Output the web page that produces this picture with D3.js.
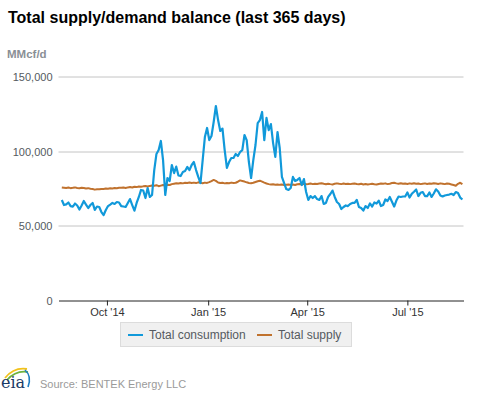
<!DOCTYPE html>
<html>
<head>
<meta charset="utf-8">
<script src="https://cdn.jsdelivr.net/npm/d3@7"></script>
<style>
    body { margin: 0; background: #fff; }
    svg { display: block; font-family: Arial, "Liberation Sans", sans-serif; }
</style>
</head>
<body>
<svg id="drawing_region"></svg>
<script>

// one reading every 2 days, starting 21 Aug 2014
const startDate = new Date(2014, 7, 21);
const stepDays = 2;

const consumption = [
    67000, 63600, 64000, 65300, 62900, 62500, 64600, 63300, 60600, 63300,
    66300, 63900, 61600, 63600, 65000, 60300, 62600, 62300, 58900, 56900,
    60300, 62900, 63900, 65000, 64300, 65600, 65300, 62900, 62600, 62300,
    65000, 67600, 63600, 59800, 65000, 69000, 73700, 73300, 68300, 75000,
    69000, 70300, 87000, 97800, 100400, 106500, 93700, 70300, 81700, 79700,
    90400, 85000, 89300, 83400, 83000, 85700, 86400, 89100, 87000, 90400,
    92400, 87000, 82400, 78300, 93700, 109100, 115200, 107100, 109800, 119200,
    129900, 120500, 113200, 114800, 100400, 88400, 92400, 95100, 95100, 97800,
    96400, 99100, 100400, 110500, 107100, 92400, 81700, 93700, 103800, 118500,
    120500, 125900, 107100, 121900, 113800, 117800, 105100, 95800, 112500, 101800,
    82400, 78300, 74300, 73700, 75000, 82400, 79700, 80400, 81700, 77000,
    81000, 72300, 67000, 69600, 68300, 69600, 67600, 67000, 69600, 64300,
    65000, 69000, 71000, 73300, 69000, 65600, 64300, 60900, 62300, 63300,
    62900, 64300, 65000, 65000, 67000, 62300, 61600, 59900, 62900, 61600,
    64700, 62600, 65300, 64600, 66600, 62900, 63600, 67300, 66300, 69000,
    65800, 62600, 66600, 69300, 69000, 69300, 69300, 72000, 68600, 71100,
    72500, 74000, 69600, 71800, 72300, 69600, 69600, 72000, 69000, 71300,
    74100, 72700, 70000, 69300, 70000, 70300, 70600, 71100, 70300, 72300,
    71600, 68600, 67300
];

const supply = [
    75400, 75200, 75000, 75300, 74900, 75100, 75400, 75000, 74800, 75100,
    75000, 74700, 74900, 74500, 74300, 73900, 74200, 74100, 74400, 74300,
    74600, 74500, 74800, 74700, 75000, 74900, 75200, 75100, 75300, 75000,
    75400, 75600, 75300, 75800, 75600, 76000, 75800, 76100, 76300, 76000,
    76400, 76700, 76500, 76900, 76200, 76600, 77000, 76800, 77200, 77000,
    77600, 77900, 78200, 78000, 78400, 78100, 78500, 78300, 78700, 78400,
    78600, 78300, 78800, 78500, 78200, 78600, 78400, 78900, 79600, 80400,
    79800, 78700, 78300, 78500, 78100, 78400, 78200, 78600, 78300, 78500,
    79200, 80100, 79700, 79300, 78800, 78400, 78200, 78500, 79000, 79500,
    79900, 79300, 78600, 78000, 77600, 77300, 77500, 77200, 77400, 77100,
    77300, 77000, 77200, 77400, 77100, 77300, 77000, 77500, 77700, 77400,
    77800, 77500, 77700, 78000, 77600, 77900, 77700, 78000, 78200, 77800,
    77500, 77900, 77600, 77400, 77800, 78100, 77800, 77600, 78000, 77700,
    77900, 77600, 77800, 78000, 77700, 77500, 77800, 77400, 77700, 77300,
    77600, 77900, 77500, 77300, 77700, 78000, 77800, 78100, 77600, 77900,
    78300, 78500, 78100, 77900, 78200, 77800, 78000, 77700, 78100, 77900,
    78200, 77800, 78000, 77600, 77900, 78100, 77700, 78000, 77800, 78200,
    78000, 77700, 78100, 77900, 77600, 78000, 77800, 77400, 77000, 76500,
    77800, 78500, 77600
];

const yTicks = [0, 50000, 100000, 150000];
const xTickDates = [new Date(2014, 9, 1), new Date(2015, 0, 1), new Date(2015, 3, 1), new Date(2015, 6, 1)];
const xTickLabels = ["Oct '14", "Jan '15", "Apr '15", "Jul '15"];
const seriesNames = ["Total consumption", "Total supply"];
const seriesColors = ["#1199da", "#c0722e"];

const width = 477, height = 393;
const plot = { left: 58.5, right: 463.5, top: 76, bottom: 300 };

const svg = d3.select("#drawing_region")
    .attr("width", width)
    .attr("height", height);

const xscale = d3.scaleTime()
    .domain([new Date(2014, 7, 18), new Date(2015, 7, 21)])
    .range([plot.left, plot.right]);

const yscale = d3.scaleLinear()
    .domain([0, 150000])
    .range([plot.bottom, plot.top]);

// title + unit
svg.append("text")
    .attr("x", 8).attr("y", 23)
    .style("font-size", "16px").style("font-weight", "bold")
    .attr("fill", "#000")
    .text("Total supply/demand balance (last 365 days)");

svg.append("text")
    .attr("x", 7).attr("y", 58)
    .style("font-size", "11.5px").style("font-weight", "bold")
    .attr("fill", "#8a8f96")
    .text("MMcf/d");

// y grid + labels
const yaxis = d3.axisLeft(yscale)
    .tickValues(yTicks)
    .tickFormat(d3.format(","))
    .tickSize(-(plot.right - plot.left))
    .tickPadding(6);

const yaxis_group = svg.append("g")
    .attr("transform", `translate(${plot.left}, 0)`)
    .call(yaxis);

yaxis_group.select(".domain").remove();
yaxis_group.selectAll(".tick line")
    .attr("stroke", "#c4c4c4")
    .attr("transform", d => `translate(0, ${Math.round(yscale(d)) + 0.5 - yscale(d)})`);
yaxis_group.selectAll(".tick text")
    .attr("fill", "#555a60")
    .style("font-size", "11px")
    .attr("dy", "0.42em")
    .attr("font-family", "Arial, 'Liberation Sans', sans-serif");
yaxis_group.selectAll(".tick").filter(d => d === 0).select("line").remove();

// x axis
const xaxis = d3.axisBottom(xscale)
    .tickValues(xTickDates)
    .tickFormat((d, i) => xTickLabels[i])
    .tickSize(5)
    .tickSizeOuter(0)
    .tickPadding(3);

const xaxis_group = svg.append("g")
    .attr("transform", `translate(0, ${plot.bottom + 0.5})`)
    .call(xaxis);

xaxis_group.select(".domain").attr("stroke", "#222");
xaxis_group.selectAll(".tick line").attr("stroke", "#222");
xaxis_group.selectAll(".tick text")
    .attr("fill", "#333")
    .style("font-size", "11px")
    .attr("font-family", "Arial, 'Liberation Sans', sans-serif");

// lines
const dateOf = i => d3.timeDay.offset(startDate, i * stepDays);

const line = d3.line()
    .x((d, i) => xscale(dateOf(i)))
    .y(d => yscale(d))
    .curve(d3.curveLinear);

const chart = svg.append("g");

chart.append("path")
    .datum(supply)
    .attr("fill", "none")
    .attr("stroke", seriesColors[1])
    .attr("stroke-width", 2)
    .attr("stroke-linejoin", "round")
    .attr("d", line);

chart.append("path")
    .datum(consumption)
    .attr("fill", "none")
    .attr("stroke", seriesColors[0])
    .attr("stroke-width", 2.2)
    .attr("stroke-linejoin", "round")
    .attr("d", line);

// legend
const legend = svg.append("g");

legend.append("rect")
    .attr("x", 120.5).attr("y", 322.5)
    .attr("width", 231).attr("height", 24)
    .attr("fill", "#f0f0f0")
    .attr("stroke", "#dcdcdc");

const legendX = [128, 257];
seriesNames.forEach((name, i) => {
    legend.append("line")
        .attr("x1", legendX[i]).attr("x2", legendX[i] + 15)
        .attr("y1", 335).attr("y2", 335)
        .attr("stroke", seriesColors[i])
        .attr("stroke-width", 2);
    legend.append("text")
        .attr("x", legendX[i] + 21).attr("y", 339)
        .style("font-size", "12px")
        .attr("fill", "#555a60")
        .text(name);
});

// eia logo + source
const logo = svg.append("g");
logo.append("path")
    .attr("d", "M5,378 Q14,367 27,369")
    .attr("fill", "none").attr("stroke", "#f2c21b").attr("stroke-width", 1.8);
logo.append("path")
    .attr("d", "M7,380 Q16,370 28,372")
    .attr("fill", "none").attr("stroke", "#6fb33f").attr("stroke-width", 1.8);
logo.append("path")
    .attr("d", "M25,370 Q32,376 28,387")
    .attr("fill", "none").attr("stroke", "#1f7dc2").attr("stroke-width", 1.6);
logo.append("text")
    .attr("x", 1).attr("y", 388)
    .style("font-family", "'DejaVu Serif', 'Liberation Serif', serif")
    .style("font-size", "16px")
    .attr("fill", "#1a3a66")
    .text("eia");

svg.append("text")
    .attr("x", 40).attr("y", 388)
    .style("font-size", "11px")
    .attr("fill", "#9a9a9a")
    .text("Source: BENTEK Energy LLC");

</script>
</body>
</html>
